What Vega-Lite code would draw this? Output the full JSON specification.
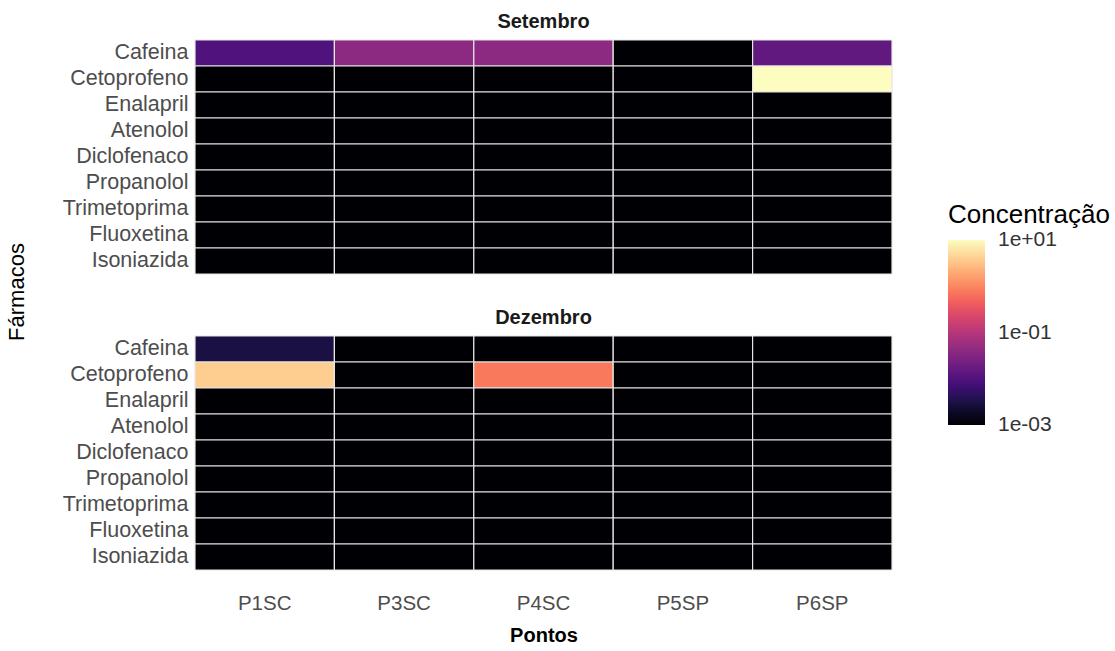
{
  "$schema": "https://vega.github.io/schema/vega-lite/v6.json",
  "padding": {"left": 6, "top": 12, "right": 5, "bottom": 5},
  "background": "white",
  "data": {"values": [
    {"mes":"Setembro","farmaco":"Cafeina","ponto":"P1SC","conc":0.01},
    {"mes":"Setembro","farmaco":"Cafeina","ponto":"P3SC","conc":0.04},
    {"mes":"Setembro","farmaco":"Cafeina","ponto":"P4SC","conc":0.04},
    {"mes":"Setembro","farmaco":"Cafeina","ponto":"P5SP","conc":0.001},
    {"mes":"Setembro","farmaco":"Cafeina","ponto":"P6SP","conc":0.0145},
    {"mes":"Setembro","farmaco":"Cetoprofeno","ponto":"P1SC","conc":0.001},
    {"mes":"Setembro","farmaco":"Cetoprofeno","ponto":"P3SC","conc":0.001},
    {"mes":"Setembro","farmaco":"Cetoprofeno","ponto":"P4SC","conc":0.001},
    {"mes":"Setembro","farmaco":"Cetoprofeno","ponto":"P5SP","conc":0.001},
    {"mes":"Setembro","farmaco":"Cetoprofeno","ponto":"P6SP","conc":10},
    {"mes":"Setembro","farmaco":"Enalapril","ponto":"P1SC","conc":0.001},
    {"mes":"Setembro","farmaco":"Enalapril","ponto":"P3SC","conc":0.001},
    {"mes":"Setembro","farmaco":"Enalapril","ponto":"P4SC","conc":0.001},
    {"mes":"Setembro","farmaco":"Enalapril","ponto":"P5SP","conc":0.001},
    {"mes":"Setembro","farmaco":"Enalapril","ponto":"P6SP","conc":0.001},
    {"mes":"Setembro","farmaco":"Atenolol","ponto":"P1SC","conc":0.001},
    {"mes":"Setembro","farmaco":"Atenolol","ponto":"P3SC","conc":0.001},
    {"mes":"Setembro","farmaco":"Atenolol","ponto":"P4SC","conc":0.001},
    {"mes":"Setembro","farmaco":"Atenolol","ponto":"P5SP","conc":0.001},
    {"mes":"Setembro","farmaco":"Atenolol","ponto":"P6SP","conc":0.001},
    {"mes":"Setembro","farmaco":"Diclofenaco","ponto":"P1SC","conc":0.001},
    {"mes":"Setembro","farmaco":"Diclofenaco","ponto":"P3SC","conc":0.001},
    {"mes":"Setembro","farmaco":"Diclofenaco","ponto":"P4SC","conc":0.001},
    {"mes":"Setembro","farmaco":"Diclofenaco","ponto":"P5SP","conc":0.001},
    {"mes":"Setembro","farmaco":"Diclofenaco","ponto":"P6SP","conc":0.001},
    {"mes":"Setembro","farmaco":"Propanolol","ponto":"P1SC","conc":0.001},
    {"mes":"Setembro","farmaco":"Propanolol","ponto":"P3SC","conc":0.001},
    {"mes":"Setembro","farmaco":"Propanolol","ponto":"P4SC","conc":0.001},
    {"mes":"Setembro","farmaco":"Propanolol","ponto":"P5SP","conc":0.001},
    {"mes":"Setembro","farmaco":"Propanolol","ponto":"P6SP","conc":0.001},
    {"mes":"Setembro","farmaco":"Trimetoprima","ponto":"P1SC","conc":0.001},
    {"mes":"Setembro","farmaco":"Trimetoprima","ponto":"P3SC","conc":0.001},
    {"mes":"Setembro","farmaco":"Trimetoprima","ponto":"P4SC","conc":0.001},
    {"mes":"Setembro","farmaco":"Trimetoprima","ponto":"P5SP","conc":0.001},
    {"mes":"Setembro","farmaco":"Trimetoprima","ponto":"P6SP","conc":0.001},
    {"mes":"Setembro","farmaco":"Fluoxetina","ponto":"P1SC","conc":0.001},
    {"mes":"Setembro","farmaco":"Fluoxetina","ponto":"P3SC","conc":0.001},
    {"mes":"Setembro","farmaco":"Fluoxetina","ponto":"P4SC","conc":0.001},
    {"mes":"Setembro","farmaco":"Fluoxetina","ponto":"P5SP","conc":0.001},
    {"mes":"Setembro","farmaco":"Fluoxetina","ponto":"P6SP","conc":0.001},
    {"mes":"Setembro","farmaco":"Isoniazida","ponto":"P1SC","conc":0.001},
    {"mes":"Setembro","farmaco":"Isoniazida","ponto":"P3SC","conc":0.001},
    {"mes":"Setembro","farmaco":"Isoniazida","ponto":"P4SC","conc":0.001},
    {"mes":"Setembro","farmaco":"Isoniazida","ponto":"P5SP","conc":0.001},
    {"mes":"Setembro","farmaco":"Isoniazida","ponto":"P6SP","conc":0.001},
    {"mes":"Dezembro","farmaco":"Cafeina","ponto":"P1SC","conc":0.003},
    {"mes":"Dezembro","farmaco":"Cafeina","ponto":"P3SC","conc":0.001},
    {"mes":"Dezembro","farmaco":"Cafeina","ponto":"P4SC","conc":0.001},
    {"mes":"Dezembro","farmaco":"Cafeina","ponto":"P5SP","conc":0.001},
    {"mes":"Dezembro","farmaco":"Cafeina","ponto":"P6SP","conc":0.001},
    {"mes":"Dezembro","farmaco":"Cetoprofeno","ponto":"P1SC","conc":4},
    {"mes":"Dezembro","farmaco":"Cetoprofeno","ponto":"P3SC","conc":0.001},
    {"mes":"Dezembro","farmaco":"Cetoprofeno","ponto":"P4SC","conc":0.76},
    {"mes":"Dezembro","farmaco":"Cetoprofeno","ponto":"P5SP","conc":0.001},
    {"mes":"Dezembro","farmaco":"Cetoprofeno","ponto":"P6SP","conc":0.001},
    {"mes":"Dezembro","farmaco":"Enalapril","ponto":"P1SC","conc":0.001},
    {"mes":"Dezembro","farmaco":"Enalapril","ponto":"P3SC","conc":0.001},
    {"mes":"Dezembro","farmaco":"Enalapril","ponto":"P4SC","conc":0.001},
    {"mes":"Dezembro","farmaco":"Enalapril","ponto":"P5SP","conc":0.001},
    {"mes":"Dezembro","farmaco":"Enalapril","ponto":"P6SP","conc":0.001},
    {"mes":"Dezembro","farmaco":"Atenolol","ponto":"P1SC","conc":0.001},
    {"mes":"Dezembro","farmaco":"Atenolol","ponto":"P3SC","conc":0.001},
    {"mes":"Dezembro","farmaco":"Atenolol","ponto":"P4SC","conc":0.001},
    {"mes":"Dezembro","farmaco":"Atenolol","ponto":"P5SP","conc":0.001},
    {"mes":"Dezembro","farmaco":"Atenolol","ponto":"P6SP","conc":0.001},
    {"mes":"Dezembro","farmaco":"Diclofenaco","ponto":"P1SC","conc":0.001},
    {"mes":"Dezembro","farmaco":"Diclofenaco","ponto":"P3SC","conc":0.001},
    {"mes":"Dezembro","farmaco":"Diclofenaco","ponto":"P4SC","conc":0.001},
    {"mes":"Dezembro","farmaco":"Diclofenaco","ponto":"P5SP","conc":0.001},
    {"mes":"Dezembro","farmaco":"Diclofenaco","ponto":"P6SP","conc":0.001},
    {"mes":"Dezembro","farmaco":"Propanolol","ponto":"P1SC","conc":0.001},
    {"mes":"Dezembro","farmaco":"Propanolol","ponto":"P3SC","conc":0.001},
    {"mes":"Dezembro","farmaco":"Propanolol","ponto":"P4SC","conc":0.001},
    {"mes":"Dezembro","farmaco":"Propanolol","ponto":"P5SP","conc":0.001},
    {"mes":"Dezembro","farmaco":"Propanolol","ponto":"P6SP","conc":0.001},
    {"mes":"Dezembro","farmaco":"Trimetoprima","ponto":"P1SC","conc":0.001},
    {"mes":"Dezembro","farmaco":"Trimetoprima","ponto":"P3SC","conc":0.001},
    {"mes":"Dezembro","farmaco":"Trimetoprima","ponto":"P4SC","conc":0.001},
    {"mes":"Dezembro","farmaco":"Trimetoprima","ponto":"P5SP","conc":0.001},
    {"mes":"Dezembro","farmaco":"Trimetoprima","ponto":"P6SP","conc":0.001},
    {"mes":"Dezembro","farmaco":"Fluoxetina","ponto":"P1SC","conc":0.001},
    {"mes":"Dezembro","farmaco":"Fluoxetina","ponto":"P3SC","conc":0.001},
    {"mes":"Dezembro","farmaco":"Fluoxetina","ponto":"P4SC","conc":0.001},
    {"mes":"Dezembro","farmaco":"Fluoxetina","ponto":"P5SP","conc":0.001},
    {"mes":"Dezembro","farmaco":"Fluoxetina","ponto":"P6SP","conc":0.001},
    {"mes":"Dezembro","farmaco":"Isoniazida","ponto":"P1SC","conc":0.001},
    {"mes":"Dezembro","farmaco":"Isoniazida","ponto":"P3SC","conc":0.001},
    {"mes":"Dezembro","farmaco":"Isoniazida","ponto":"P4SC","conc":0.001},
    {"mes":"Dezembro","farmaco":"Isoniazida","ponto":"P5SP","conc":0.001},
    {"mes":"Dezembro","farmaco":"Isoniazida","ponto":"P6SP","conc":0.001}
  ]},
  "facet": {
    "row": {
      "field": "mes", "type": "nominal", "sort": ["Setembro", "Dezembro"],
      "header": {"title": "Fármacos", "titleOrient": "left", "titleFontSize": 22, "titleFontWeight": "normal", "titleFont": "Liberation Sans", "titleColor": "#000", "titlePadding": 23,
        "labelOrient": "top", "labelFontWeight": "bold", "labelFontSize": 20, "labelFont": "Liberation Sans", "labelColor": "#1a1a1a", "labelPadding": 7}
    }
  },
  "spacing": 33,
  "spec": {
    "width": 697,
    "height": 234,
    "mark": {"type": "rect", "stroke": "#e6e6e6", "strokeWidth": 1.2},
    "encoding": {
      "x": {"field": "ponto", "type": "nominal", "sort": ["P1SC","P3SC","P4SC","P5SP","P6SP"],
        "scale": {"paddingInner": 0, "paddingOuter": 0},
        "axis": {"title": "Pontos", "labelAngle": 0, "labelPadding": 22, "titleFontWeight": "bold", "titleFontSize": 20, "titlePadding": 12}},
      "y": {"field": "farmaco", "type": "nominal",
        "sort": ["Cafeina","Cetoprofeno","Enalapril","Atenolol","Diclofenaco","Propanolol","Trimetoprima","Fluoxetina","Isoniazida"],
        "scale": {"paddingInner": 0, "paddingOuter": 0},
        "axis": {"title": null, "labelPadding": 6, "labelFontSize": 21.5}},
      "color": {"field": "conc", "type": "quantitative",
        "scale": {"type": "log", "scheme": "magma", "domain": [0.001, 10], "clamp": true},
        "legend": {"title": "Concentração", "values": [0.001, 0.1, 10],
          "labelExpr": "datum.value >= 10 ? '1e+01' : datum.value >= 0.1 ? '1e-01' : '1e-03'",
          "gradientLength": 185, "gradientThickness": 37, "orient": "none", "legendX": 753, "legendY": 162,
          "titleFontSize": 26, "titleFontWeight": "normal", "titleColor": "#000", "titleFont": "Liberation Sans", "titlePadding": 12,
          "labelFontSize": 21, "labelFont": "Liberation Sans", "labelColor": "#333", "labelOffset": 13,
          "tickCount": 3, "gradientStrokeWidth": 0,
          "encode": {"labels": {"update": {"baseline": {"value": "middle"}}}}}}
    }
  },
  "config": {
    "view": {"stroke": null},
    "axis": {"domain": false, "ticks": false, "grid": false, "labelFont": "Liberation Sans", "labelFontSize": 20.5, "labelColor": "#4d4d4d", "titleFont": "Liberation Sans", "titleColor": "#000"}
  }
}
